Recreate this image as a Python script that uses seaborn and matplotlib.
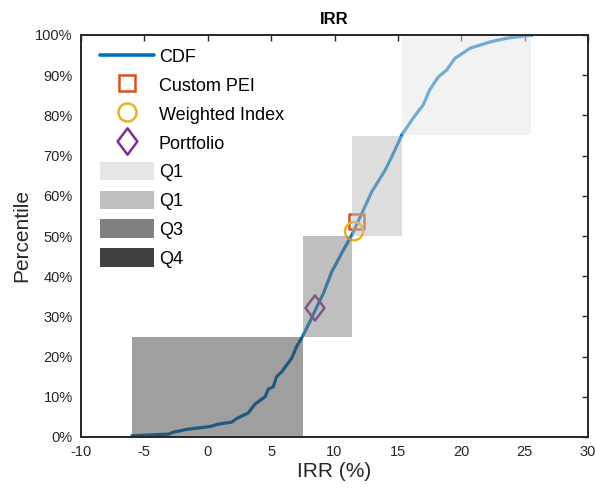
import numpy as np
import pandas as pd
import matplotlib
matplotlib.use("Agg")
import matplotlib.pyplot as plt
import seaborn as sns
from matplotlib.patches import Rectangle, Patch
from matplotlib.lines import Line2D
from matplotlib.path import Path
from matplotlib.ticker import FuncFormatter

# ---- data ----
cdf_x = [-6.0, -3.1, -2.7, -1.66, 0.18, 0.83, 1.89, 2.28, 3.2, 3.73, 4.52, 4.78, 5.17,
         5.43, 5.83, 6.62, 7.01, 7.49, 8.2, 8.86, 9.12, 9.78, 10.7, 11.36, 12.15, 12.94,
         14.0, 14.77, 15.3, 16.2, 17.0, 17.5, 18.2, 18.85, 19.5, 20.7, 22.3, 23.6, 25.6]
cdf_y = [0.3, 0.7, 1.2, 1.9, 2.6, 3.2, 3.7, 4.6, 6.0, 8.2, 10.0, 11.9, 12.5,
         15.0, 16.2, 19.6, 22.5, 25.1, 29.6, 34.1, 35.7, 41.1, 46.5, 50.2, 55.6, 61.0,
         66.4, 71.4, 75.1, 79.3, 82.6, 86.3, 89.6, 91.3, 94.2, 96.7, 98.3, 99.2, 100.0]

quart_x = [-5.95, 7.5, 11.38, 15.3, 25.5]     # quartile IRR bounds
quart_y = [0, 25, 50, 75, 100]                # percentile bounds
quart_gray = [0.25, 0.5, 0.75, 0.9]           # face gray level (bottom to top)

legend_quart_labels = ["Q1", "Q1", "Q3", "Q4"]
legend_quart_gray = [0.9, 0.75, 0.5, 0.25]

pei_x, pei_y = [11.75], [53.6]
wi_x, wi_y = [11.54], [51.2]
port_x, port_y = [8.46], [32.1]

xticks = [-10, -5, 0, 5, 10, 15, 20, 25, 30]
yticks = [0, 10, 20, 30, 40, 50, 60, 70, 80, 90, 100]

# ---- style ----
sns.set_style("white")
plt.rcParams["font.family"] = ["Liberation Sans", "DejaVu Sans"]
plt.rcParams["xtick.direction"] = "in"
plt.rcParams["ytick.direction"] = "in"
plt.rcParams["axes.unicode_minus"] = False

blue = (0.0, 0.447, 0.741)
orange = (0.85, 0.325, 0.098)
yellow = (0.929, 0.694, 0.125)
purple = (0.494, 0.184, 0.556)
txt = "#262626"

diamond = Path([(0, 1), (0.75, 0), (0, -1), (-0.75, 0), (0, 1)],
               [Path.MOVETO, Path.LINETO, Path.LINETO, Path.LINETO, Path.CLOSEPOLY])

fig = plt.figure(figsize=(5.96, 4.91), dpi=100)
ax = fig.add_axes([81 / 596, 1 - 437 / 491, 507 / 596, 402 / 491])

df = pd.DataFrame({"x": cdf_x, "y": cdf_y})
sns.lineplot(data=df, x="x", y="y", sort=False, color=blue, lw=2.3, ax=ax, zorder=2)

mk = dict(ax=ax, zorder=2, legend=False)
sns.scatterplot(x=pei_x, y=pei_y, marker="s", s=115, facecolor="none",
                edgecolor=orange, linewidth=1.8, **mk)
sns.scatterplot(x=wi_x, y=wi_y, marker="o", s=170, facecolor="none",
                edgecolor=yellow, linewidth=1.8, **mk)
sns.scatterplot(x=port_x, y=port_y, marker=diamond, s=330, facecolor="none",
                edgecolor=purple, linewidth=1.8, **mk)

for i in range(4):
    g = quart_gray[i]
    ax.add_patch(Rectangle((quart_x[i], quart_y[i]), quart_x[i + 1] - quart_x[i],
                           quart_y[i + 1] - quart_y[i], facecolor=(g, g, g),
                           alpha=0.5, edgecolor="none", zorder=3))

ax.set_xlim(-10, 30)
ax.set_ylim(0, 100)
ax.set_xticks(xticks)
ax.set_yticks(yticks)
ax.yaxis.set_major_formatter(FuncFormatter(lambda v, p: f"{v:.0f}%"))
ax.tick_params(axis="both", which="major", length=4, width=1.0, colors=txt,
               labelsize=10.5, top=True, right=True)
ax.tick_params(axis="x", pad=6)
ax.tick_params(axis="y", pad=6)
for s in ax.spines.values():
    s.set_color(txt)
    s.set_linewidth(1.4)
    s.set_zorder(5)

ax.set_xlabel("IRR (%)", fontsize=15, color=txt, labelpad=2)
ax.set_ylabel("Percentile", fontsize=15, color=txt, labelpad=3)
ax.set_title("IRR", fontsize=12, fontweight="bold", color="black", pad=8)

handles = [
    Line2D([], [], color=blue, lw=2.6),
    Line2D([], [], marker="s", ls="none", ms=11, mfc="none", mec=orange, mew=1.8),
    Line2D([], [], marker="o", ls="none", ms=13, mfc="none", mec=yellow, mew=1.8),
    Line2D([], [], marker=diamond, ls="none", ms=19, mfc="none", mec=purple, mew=1.8),
]
for g in legend_quart_gray:
    handles.append(Patch(facecolor=(g, g, g), edgecolor="none"))
labels = ["CDF", "Custom PEI", "Weighted Index", "Portfolio"] + legend_quart_labels

leg = ax.legend(handles, labels, loc="upper left", bbox_to_anchor=(19 / 507, 1 - 12 / 402),
                frameon=False, fontsize=13, handlelength=3.0, handleheight=1.2,
                handletextpad=0.25, labelspacing=0.52, borderpad=0, borderaxespad=0)
for t in leg.get_texts():
    t.set_color("black")

fig.savefig("out.png", dpi=100)
